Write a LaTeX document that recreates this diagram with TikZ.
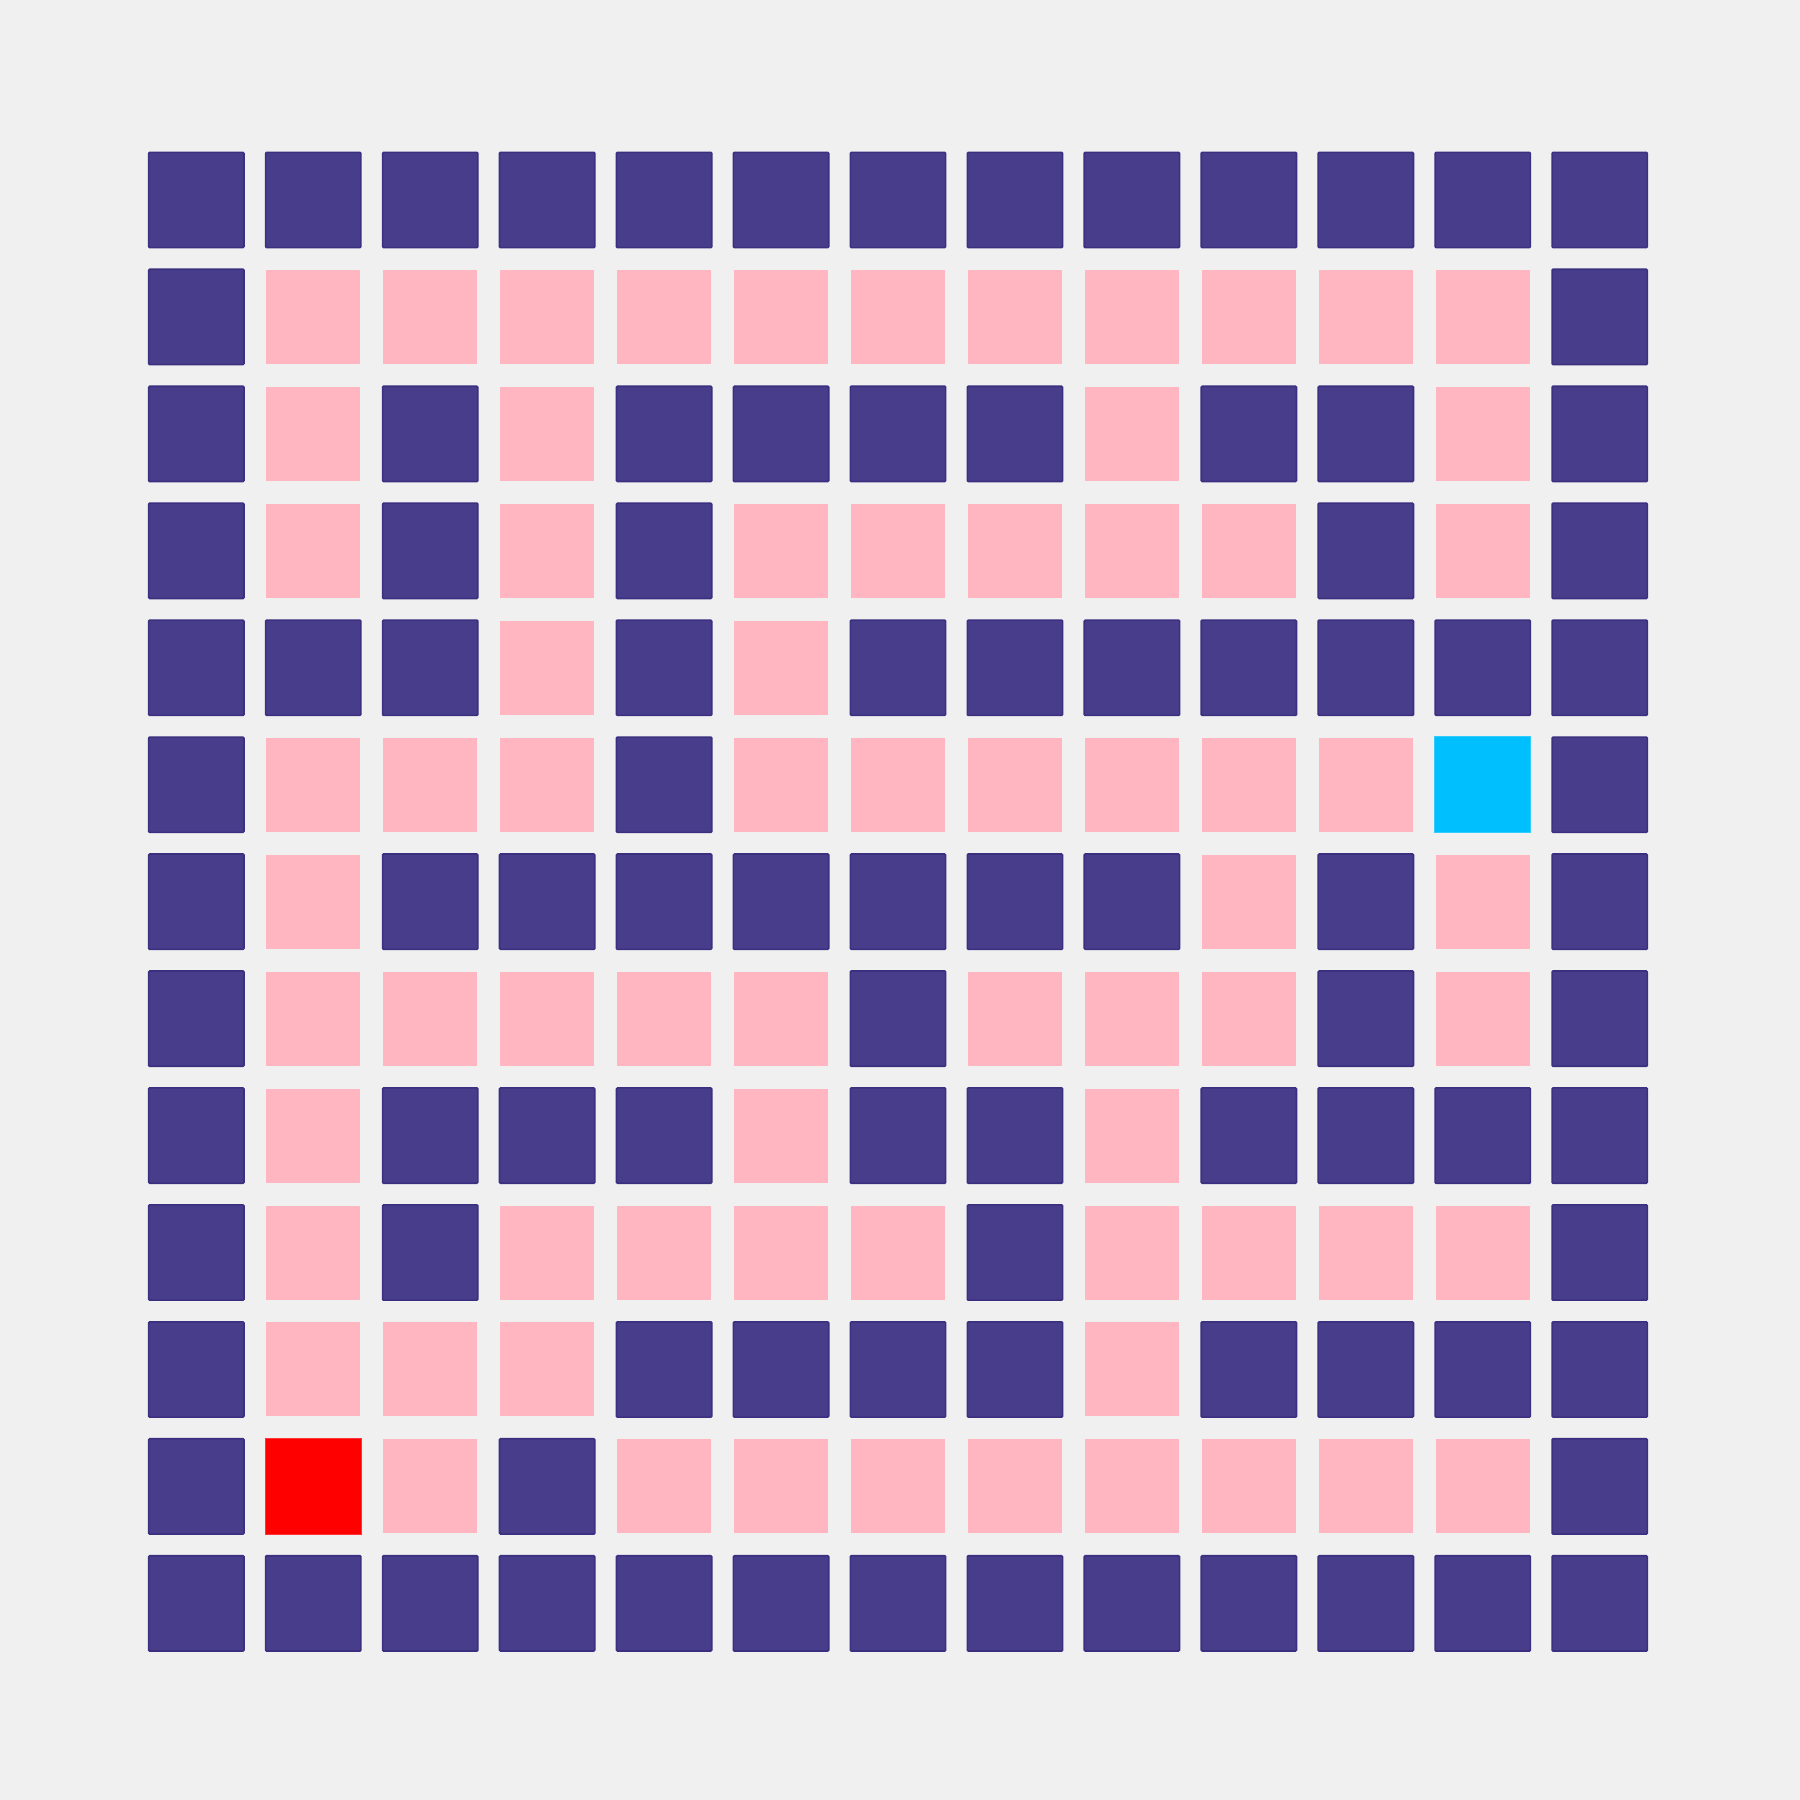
\documentclass[tikz,border=0pt]{standalone}
\usepackage{tikz}
\usetikzlibrary{positioning}
\definecolor{bggray}{HTML}{F0F0F0}
\definecolor{wallblue}{HTML}{483D8B}
\definecolor{walledge}{HTML}{3B2F80}
\definecolor{pathpink}{HTML}{FFB6C1}
\definecolor{startred}{HTML}{FF0000}
\definecolor{goalcyan}{HTML}{00BFFF}

\begin{document}
\begin{tikzpicture}[
    cellbase/.style={rectangle, inner sep=0pt, outer sep=0pt},
    celld/.style={cellbase, fill=wallblue, draw=walledge, line width=0.016cm, rounded corners=0.01cm, minimum size=0.953cm},
    cellp/.style={cellbase, fill=pathpink, minimum size=0.94cm},
    cellr/.style={cellbase, fill=startred, draw=startred!80!white, line width=0.01cm, minimum size=0.957cm},
    cellc/.style={cellbase, fill=goalcyan, draw=goalcyan!80!white, line width=0.01cm, minimum size=0.957cm},
]
  \fill[bggray] (0,0) rectangle (18,18);
  \useasboundingbox (0,0) rectangle (18,18);

  % maze rows, top to bottom
  \foreach \row [count=\r] in {
      {d,d,d,d,d,d,d,d,d,d,d,d,d},
      {d,p,p,p,p,p,p,p,p,p,p,p,d},
      {d,p,d,p,d,d,d,d,p,d,d,p,d},
      {d,p,d,p,d,p,p,p,p,p,d,p,d},
      {d,d,d,p,d,p,d,d,d,d,d,d,d},
      {d,p,p,p,d,p,p,p,p,p,p,c,d},
      {d,p,d,d,d,d,d,d,d,p,d,p,d},
      {d,p,p,p,p,p,d,p,p,p,d,p,d},
      {d,p,d,d,d,p,d,d,p,d,d,d,d},
      {d,p,d,p,p,p,p,d,p,p,p,p,d},
      {d,p,p,p,d,d,d,d,p,d,d,d,d},
      {d,r,p,d,p,p,p,p,p,p,p,p,d},
      {d,d,d,d,d,d,d,d,d,d,d,d,d}} {
    \foreach \c [count=\k] in \row {
      \node[cell\c] (cell-\r-\k) at ({1.963+1.1695*(\k-1)}, {16.0-1.1695*(\r-1)}) {};
    }
  }
\end{tikzpicture}
\end{document}
